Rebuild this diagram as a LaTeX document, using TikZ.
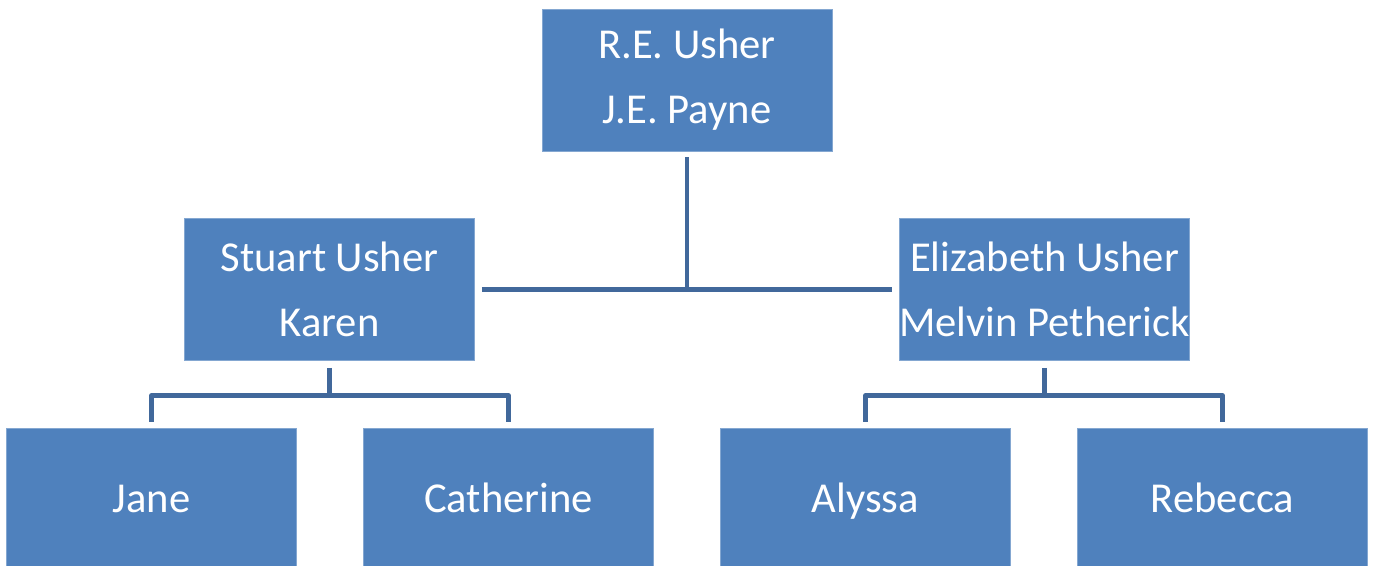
\documentclass[tikz,border=0pt]{standalone}
\usepackage{fontspec}
\setmainfont{Carlito}
\definecolor{boxblue}{HTML}{4F81BD}
\definecolor{linkblue}{HTML}{41689B}
\tikzset{
  person/.style={fill=boxblue, draw=boxblue!70!white, line width=0.4pt,
    minimum width=145pt, minimum height=71pt, inner sep=0pt,
    text=white, align=center, font=\fontsize{21.3}{32.5}\selectfont},
  kid/.style={person, text height=17pt, text depth=4pt},
  link/.style={draw=linkblue, line width=2.2pt, line join=round}
}
\begin{document}
\begin{tikzpicture}[x=0.5pt,y=-0.5pt]
  \useasboundingbox (0,0) rectangle (1374,566);
  \clip (0,0) rectangle (1374,566);
  % parents
  \node[person] (top) at (687,80) {R.E. Usher\\J.E. Payne};
  % children
  \node[person] (stuart) at (329.5,289.5) {Stuart Usher\\Karen};
  \node[person] (eliz) at (1044.5,289.5) {Elizabeth Usher\\Melvin Petherick};
  % grandchildren
  \foreach \name/\x/\label in {jane/151.5/Jane, cath/508.5/Catherine,
      alyssa/865.5/Alyssa, rebecca/1222.5/Rebecca} {
    \node[kid] (\name) at (\x,499) {\label};
  }
  % connectors
  \draw[link] ([yshift=-3pt]top.south) -- (top.south |- stuart.east);
  \draw[link] ([xshift=3.5pt]stuart.east) -- ([xshift=-3.5pt]eliz.west);
  \draw[link] ([yshift=-3.5pt]stuart.south) -- ++(0,-14pt);
  \draw[link] ([yshift=3pt]jane.north) -- ++(0,13pt) -| ([yshift=3pt]cath.north);
  \draw[link] ([yshift=-3.5pt]eliz.south) -- ++(0,-14pt);
  \draw[link] ([yshift=3pt]alyssa.north) -- ++(0,13pt) -| ([yshift=3pt]rebecca.north);
\end{tikzpicture}
\end{document}
